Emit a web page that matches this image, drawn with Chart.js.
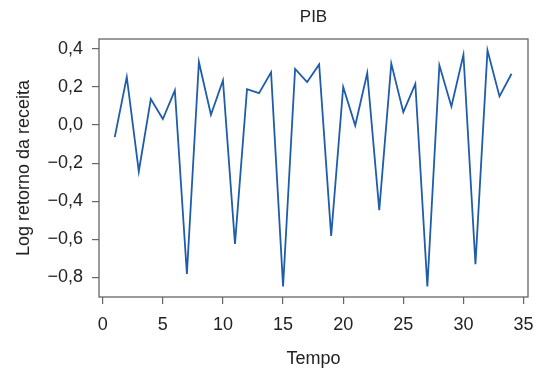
<!DOCTYPE html>
<html>
<head>
<meta charset="utf-8">
<script src="https://cdn.jsdelivr.net/npm/chart.js@4"></script>
<style>
  html, body { margin: 0; padding: 0; background: #fff; }
  #wrap { width: 538px; height: 375px; }
</style>
</head>
<body>
<div id="wrap"><canvas id="pib"></canvas></div>
<script>
// series
const tempo = [1, 2, 3, 4, 5, 6, 7, 8, 9, 10, 11, 12, 13, 14, 15, 16, 17,
    18, 19, 20, 21, 22, 23, 24, 25, 26, 27, 28, 29, 30, 31, 32, 33, 34];
const logRetorno = [-0.063, 0.253, -0.244, 0.137, 0.032, 0.182, -0.783, 0.332,
    0.054, 0.235, -0.625, 0.189, 0.168, 0.277, -0.849, 0.295, 0.226, 0.319,
    -0.583, 0.200, -0.002, 0.274, -0.447, 0.323, 0.068, 0.217, -0.849, 0.314,
    0.098, 0.370, -0.732, 0.393, 0.151, 0.270];
const xTicks = [0, 5, 10, 15, 20, 25, 30, 35];
const yTicks = [-0.8, -0.6, -0.4, -0.2, 0.0, 0.2, 0.4];

const cinza = '#666666';
const fonte = "'Liberation Sans', Arial, sans-serif";

// box around the plot area, R style
const caixa = {
    id: 'caixa',
    afterDraw(chart) {
        const a = chart.chartArea;
        const ctx = chart.ctx;
        ctx.save();
        ctx.strokeStyle = cinza;
        ctx.lineWidth = 1.3;
        ctx.strokeRect(a.left, a.top, a.right - a.left, a.bottom - a.top);
        ctx.restore();
    }
};

function fmt(v) {
    let s = Math.abs(v).toFixed(1).replace('.', ',');
    return (v < -1e-9 ? '\u2212' : '') + s;
}

const data = {
    datasets: [{
            label: 'PIB',
            data: tempo.map((t, i) => ({x: t, y: logRetorno[i]})),
            borderColor: '#1f5dab',
            borderWidth: 1.8,
            pointRadius: 0,
            tension: 0,
            fill: false
        }]
};

const config = {
    type: 'line',
    data: data,
    options: {
        responsive: false,
        animation: false,
        layout: {padding: {right: 10}},
        plugins: {legend: {display: false}, tooltip: {enabled: false}},
        scales: {
            x: {
                type: 'linear',
                position: 'bottom',
                min: -0.31,
                max: 35.37,
                afterBuildTicks: s => { s.ticks = xTicks.map(v => ({value: v})); },
                afterFit: s => { s.height = 78; s.paddingLeft = 0; s.paddingRight = 0; },
                border: {display: false},
                grid: {drawOnChartArea: false, color: cinza, tickLength: 7, lineWidth: 1.2},
                ticks: {color: '#222', font: {family: fonte, size: 18}, padding: 10, maxRotation: 0},
                title: {display: true, text: 'Tempo', color: '#222',
                    font: {family: fonte, size: 18}, padding: {top: 0, bottom: 5}}
            },
            x2: {
                type: 'linear',
                position: 'top',
                min: -0.31,
                max: 35.37,
                afterFit: s => { s.height = 39; s.paddingLeft = 0; s.paddingRight = 0; },
                border: {display: false},
                grid: {display: false},
                ticks: {display: false},
                title: {display: true, text: 'PIB', color: '#222',
                    font: {family: fonte, size: 17}, padding: {top: 7, bottom: 0}}
            },
            y: {
                min: -0.904,
                max: 0.4526,
                afterBuildTicks: s => { s.ticks = yTicks.map(v => ({value: v})); },
                afterFit: s => { s.width = 99; s.paddingTop = 0; s.paddingBottom = 0; },
                border: {display: false},
                grid: {drawOnChartArea: false, color: cinza, tickLength: 7, lineWidth: 1.2},
                ticks: {color: '#222', font: {family: fonte, size: 18}, padding: 9,
                    callback: v => fmt(v)},
                title: {display: true, text: 'Log retorno da receita', color: '#222',
                    font: {family: fonte, size: 18}, padding: {top: 13, bottom: 0}}
            }
        }
    },
    plugins: [caixa]
};

let ctx = document.getElementById('pib').getContext('2d');
const canvas = document.getElementById('pib');
canvas.width = 538;
canvas.height = 375;
new Chart(ctx, config);
</script>
</body>
</html>
